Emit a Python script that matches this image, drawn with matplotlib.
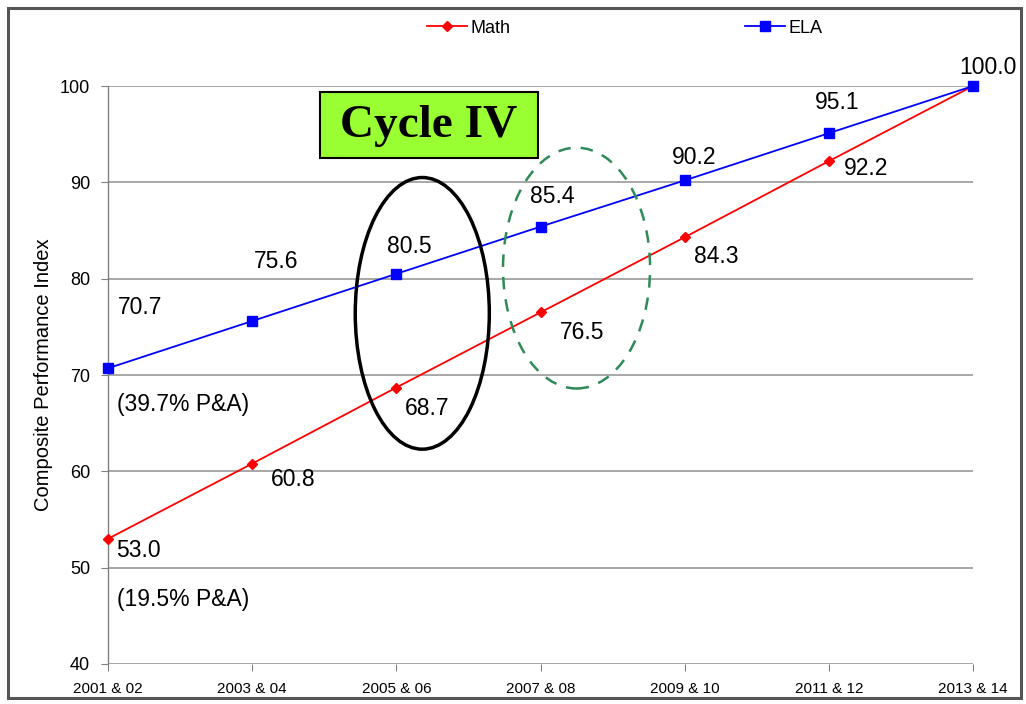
import numpy as np
import matplotlib; matplotlib.use('Agg')
import matplotlib.pyplot as plt
from matplotlib.patches import Ellipse, Rectangle

# ── Data ──────────────────────────────────────────────────────────────────────
years = ['2001 & 02', '2003 & 04', '2005 & 06', '2007 & 08',
         '2009 & 10', '2011 & 12', '2013 & 14']
math = [53.0, 60.8, 68.7, 76.5, 84.3, 92.2, 100.0]
ela  = [70.7, 75.6, 80.5, 85.4, 90.2, 95.1, 100.0]
math_base = '(19.5% P&A)'
ela_base  = '(39.7% P&A)'

# label offsets in pixels (text centre relative to point)
ela_off  = [(32, 61), (24, 60), (13, 27), (12, 30), (9, 23), (8, 31), (15, 19)]
math_off = [(30, -12), (41, -16), (31, -21), (42, -20), (32, -19), (37, -7)]

SANS = ['Liberation Sans', 'DejaVu Sans']

fig = plt.figure(figsize=(10.26, 7.04), dpi=100)
ax = fig.add_axes([108/1026, 1-664/704, 865/1026, 578/704])

x = np.arange(len(years))
ax.plot(x, math, color='#ff0000', lw=1.3, marker='D', ms=5, clip_on=False,
        label='Math', zorder=3)
ax.plot(x, ela, color='#0000ff', lw=1.3, marker='s', ms=7, clip_on=False,
        label='ELA', zorder=4)

ax.set_xlim(0, len(years) - 1)
ax.set_ylim(40, 100)
ax.set_yticks(np.arange(40, 101, 10))
ax.set_xticks(x)
ax.set_xticklabels(years, family=SANS, fontsize=11)
for t in ax.get_yticklabels():
    t.set_family(SANS)
    t.set_fontsize(13)

ax.grid(axis='y', color='#a0a0a0', lw=1.3)
ax.set_axisbelow(True)
for s in ['top', 'right', 'bottom']:
    ax.spines[s].set_visible(False)
ax.spines['left'].set_color('#808080')
ax.spines['left'].set_linewidth(1.0)
ax.tick_params(axis='y', length=5, color='#808080', pad=8)
ax.tick_params(axis='x', length=5, color='#808080', pad=8)

ax.set_ylabel('Composite Performance Index', family=SANS, fontsize=14.5)
ax.yaxis.set_label_coords(-0.064, 0.5)

# value labels
for xi, v, (dx, dy) in zip(x, ela, ela_off):
    ax.annotate(f'{v:.1f}', (xi, v), xytext=(dx, dy), textcoords='offset pixels',
                ha='center', va='center', fontsize=16.5, family=SANS,
                annotation_clip=False)
for xi, v, (dx, dy) in zip(x, math, math_off):
    ax.annotate(f'{v:.1f}', (xi, v), xytext=(dx, dy), textcoords='offset pixels',
                ha='center', va='center', fontsize=16.5, family=SANS)
ax.annotate(ela_base, (x[0], ela[0]), xytext=(75, -36), textcoords='offset pixels',
            ha='center', va='center', fontsize=16.5, family=SANS)
ax.annotate(math_base, (x[0], math[0]), xytext=(75, -61), textcoords='offset pixels',
            ha='center', va='center', fontsize=16.5, family=SANS)

# circled cycles
ax.add_patch(Ellipse((2.18, 76.4), 0.93, 28.2, fill=False, ec='black', lw=2.5, zorder=5))
ax.add_patch(Ellipse((3.25, 81.1), 1.02, 25.0, fill=False, ec='#2e8b57', lw=1.8,
                     ls=(0, (5, 4)), zorder=5, clip_on=False))

# Cycle IV box
fig.patches.append(Rectangle((320/1026, 1-158/704), 218/1026, 66/704,
                             transform=fig.transFigure, fc='#99ff33', ec='black',
                             lw=1.5, zorder=6))
fig.text(429/1026, 1-126/704, 'Cycle IV', ha='center', va='center',
         family=['Liberation Serif', 'DejaVu Serif'], fontweight='bold',
         fontsize=34, zorder=7)

# legend
fig.legend(loc='center', bbox_to_anchor=(0.609, 0.96), ncol=2, frameon=False,
           prop={'family': SANS, 'size': 13}, handlelength=2.2,
           columnspacing=13, handletextpad=0.2)

# outer frame
fig.patches.append(Rectangle((8/1026, 6/704), 1013/1026, 690/704,
                             transform=fig.transFigure, fill=False,
                             ec='#555555', lw=2.2))

fig.savefig('out.png', dpi=100)
